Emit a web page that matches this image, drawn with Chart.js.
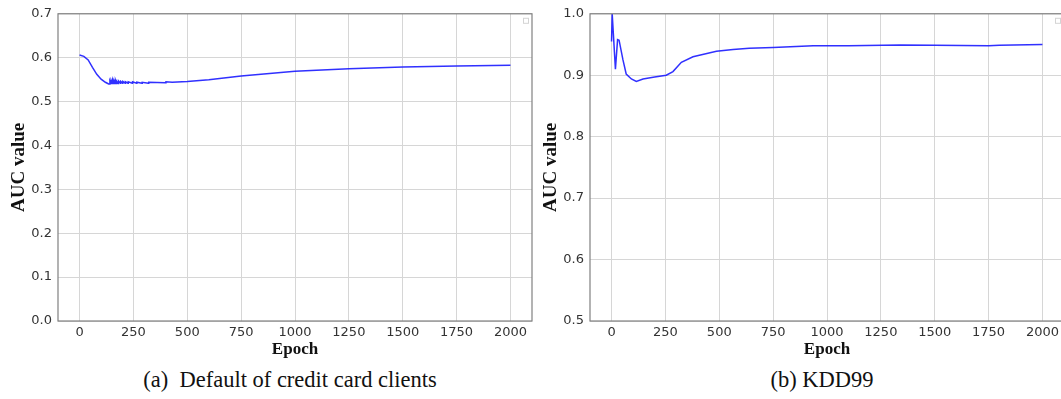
<!DOCTYPE html>
<html>
<head>
<meta charset="utf-8">
<script src="https://cdn.jsdelivr.net/npm/chart.js@4.4.1/dist/chart.umd.min.js"></script>
<style>
  html, body { margin: 0; padding: 0; background: #fff; overflow: hidden; }
  #wrap { position: relative; width: 1061px; height: 399px; overflow: hidden; }
  canvas { position: absolute; top: 0; }
  .caption {
    position: absolute; top: 367px; font-family: "Liberation Serif", "Times New Roman", serif;
    font-size: 22.5px; color: #111; white-space: pre; transform: translateX(-50%);
  }
</style>
</head>
<body>
<div id="wrap">
  <canvas id="creditChart" width="540" height="365" style="left:0px"></canvas>
  <canvas id="kddChart" width="540" height="365" style="left:532px"></canvas>
  <div class="caption" style="left:290px">(a)  Default of credit card clients</div>
  <div class="caption" style="left:822px">(b) KDD99</div>
</div>
<script>
// eje X compartido
const epochTicks = [0, 250, 500, 750, 1000, 1250, 1500, 1750, 2000];

// (a) Default of credit card clients
const creditYTicks = [0.0, 0.1, 0.2, 0.3, 0.4, 0.5, 0.6, 0.7];
const creditEpochs = [0, 20, 40, 60, 80, 100, 120, 135, 140, 141, 146, 147, 153, 154, 160, 161, 166, 167, 172,
  173, 180, 181, 190, 191, 200, 201, 212, 213, 225, 226, 245, 246, 265, 266, 290, 291, 320, 321, 400, 401,
  430, 500, 600, 750, 1000, 1250, 1500, 1750, 2000];
const creditAuc = [0.606, 0.603, 0.595, 0.578, 0.562, 0.551, 0.544, 0.540, 0.540, 0.547, 0.541, 0.548, 0.541,
  0.549, 0.541, 0.547, 0.541, 0.548, 0.541, 0.546, 0.541, 0.547, 0.542, 0.546, 0.542, 0.546, 0.542, 0.545,
  0.542, 0.545, 0.542, 0.545, 0.542, 0.544, 0.542, 0.544, 0.542, 0.544, 0.543, 0.545, 0.544, 0.546, 0.550,
  0.558, 0.569, 0.575, 0.579, 0.581, 0.583];

// (b) KDD99
const kddYTicks = [0.5, 0.6, 0.7, 0.8, 0.9, 1.0];
const kddEpochs = [0, 3, 18, 28, 35, 53, 68, 92, 115, 146, 200, 254, 285, 324, 378, 487, 564, 639, 750,
  936, 1100, 1340, 1500, 1750, 1800, 2000];
const kddAuc = [0.955, 1.0, 0.910, 0.958, 0.957, 0.925, 0.902, 0.894, 0.890, 0.894, 0.897, 0.900, 0.906,
  0.921, 0.930, 0.939, 0.942, 0.944, 0.945, 0.948, 0.948, 0.9494, 0.949, 0.948, 0.949, 0.950];

const tickFont = { family: "'DejaVu Sans', sans-serif", size: 13 };
const serif = "'Liberation Serif', 'Times New Roman', serif";

// marco completo y la caja de leyenda vacía arriba a la derecha
const framePlugin = {
  id: 'frame',
  afterDraw(chart) {
    const { ctx, chartArea: a } = chart;
    ctx.save();
    ctx.strokeStyle = '#808080';
    ctx.lineWidth = 1.2;
    ctx.strokeRect(a.left, a.top, a.right - a.left, a.bottom - a.top);
    ctx.strokeStyle = '#d4d4d4';
    ctx.lineWidth = 1;
    ctx.strokeRect(a.right - 8.5, a.top + 4.5, 5, 5);
    ctx.restore();
  }
};

function makeChart(id, epochs, auc, yTicks) {
  const points = epochs.map((e, i) => ({ x: e, y: auc[i] }));
  return new Chart(document.getElementById(id), {
    type: 'line',
    data: {
      datasets: [{
        data: points,
        borderColor: 'rgba(25, 25, 255, 0.9)',
        borderWidth: 1.5,
        pointRadius: 0,
        tension: 0,
        fill: false
      }]
    },
    options: {
      responsive: false,
      animation: false,
      devicePixelRatio: 1,
      layout: { padding: { top: 12, right: 8, left: 0, bottom: 0 } },
      plugins: { legend: { display: false }, tooltip: { enabled: false } },
      scales: {
        x: {
          type: 'linear',
          min: -100,
          max: 2100,
          afterBuildTicks: s => { s.ticks = epochTicks.map(v => ({ value: v })); },
          afterFit: s => { s.height = 44; },
          grid: { color: '#d6d6d6', lineWidth: 1, drawTicks: false },
          border: { display: false },
          ticks: { font: tickFont, color: '#333', padding: 4, maxRotation: 0, callback: v => v },
          title: { display: true, text: 'Epoch', font: { family: serif, size: 17, weight: 'bold' },
                   color: '#111', padding: { top: 0, bottom: 5 } }
        },
        y: {
          min: yTicks[0],
          max: yTicks[yTicks.length - 1],
          afterBuildTicks: s => { s.ticks = yTicks.map(v => ({ value: v })); },
          afterFit: s => { s.width = 58; },
          grid: { color: '#d6d6d6', lineWidth: 1, drawTicks: false },
          border: { display: false },
          ticks: { font: tickFont, color: '#333', padding: 6, callback: v => Number(v).toFixed(1) },
          title: { display: true, text: 'AUC value', font: { family: serif, size: 19, weight: 'bold' },
                   color: '#111', padding: { top: 8, bottom: 0 } }
        }
      }
    },
    plugins: [framePlugin]
  });
}

makeChart('creditChart', creditEpochs, creditAuc, creditYTicks);
makeChart('kddChart', kddEpochs, kddAuc, kddYTicks);
</script>
</body>
</html>
